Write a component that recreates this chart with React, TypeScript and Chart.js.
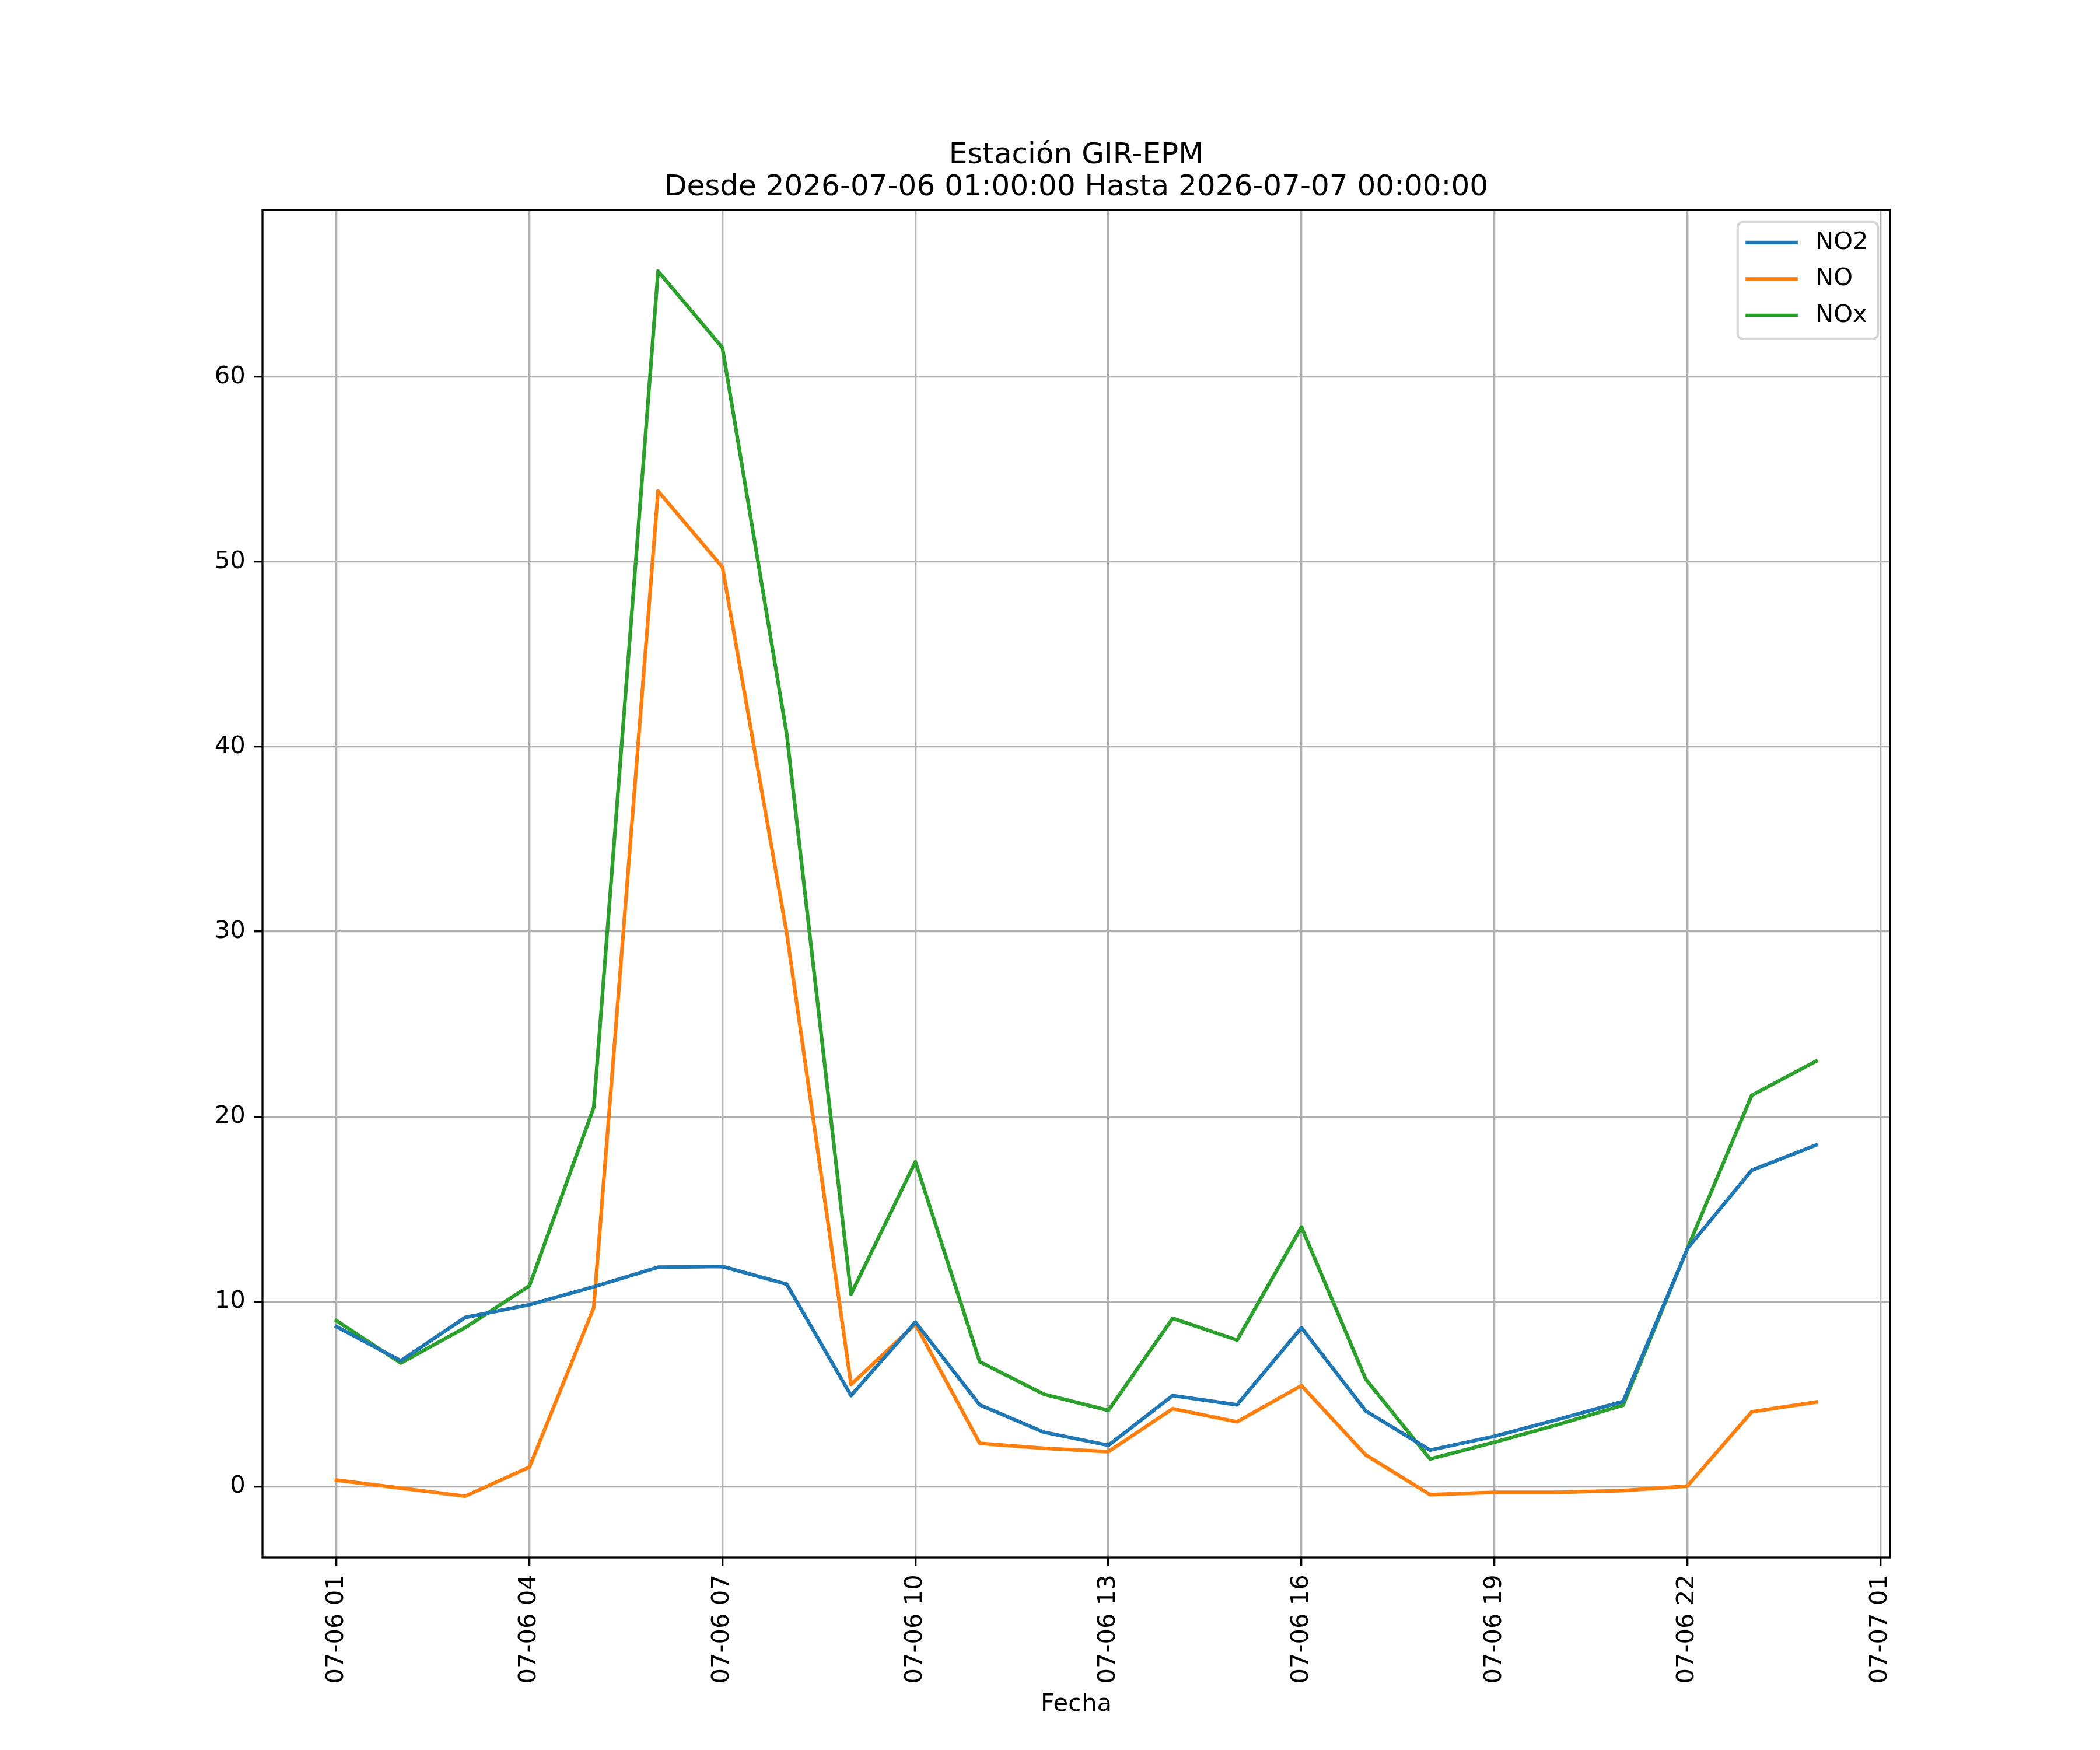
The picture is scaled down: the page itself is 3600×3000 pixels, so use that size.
import { useEffect, useRef } from "react";
import { Chart, registerables, Plugin } from "chart.js";

Chart.register(...registerables);

// hour of 2026-07-06 (24 = 2026-07-07 00:00)
const hours = [1, 2, 3, 4, 5, 6, 7, 8, 9, 10, 11, 12, 13, 14, 15, 16, 17, 18, 19, 20, 21, 22, 23, 24];

const no2Values = [8.65, 6.8, 9.14, 9.83, 10.8, 11.86, 11.9, 10.94, 4.92, 8.89, 4.42, 2.94, 2.23, 4.92, 4.42, 8.59, 4.09, 1.97, 2.72, 3.64, 4.6, 12.87, 17.1, 18.46];
const noValues = [0.35, -0.08, -0.52, 1.05, 9.67, 53.82, 49.71, 29.92, 5.52, 8.78, 2.34, 2.07, 1.89, 4.21, 3.5, 5.46, 1.71, -0.44, -0.31, -0.31, -0.22, 0.03, 4.04, 4.57];
const noxValues = [8.97, 6.68, 8.59, 10.85, 20.5, 65.7, 61.57, 40.68, 10.4, 17.56, 6.75, 4.99, 4.12, 9.1, 7.92, 14.03, 5.8, 1.49, 2.4, 3.37, 4.4, 12.87, 21.15, 23.0];

const seriesNames = ["NO2", "NO", "NOx"];
const seriesColors = ["#1f77b4", "#ff7f0e", "#2ca02c"];

const xTickHours = [1, 4, 7, 10, 13, 16, 19, 22, 25];
const xTickLabels = ["07-06 01", "07-06 04", "07-06 07", "07-06 10", "07-06 13", "07-06 16", "07-06 19", "07-06 22", "07-07 01"];
const yTickValues = [0, 10, 20, 30, 40, 50, 60];

const titleLines = ["Estación GIR-EPM", "Desde 2026-07-06 01:00:00 Hasta 2026-07-07 00:00:00"];
const xAxisTitle = "Fecha";

const PT = 300 / 72;
const FONT = "'DejaVu Sans', sans-serif";
const FS = 10 * PT;

// matplotlib-like 5% margins
const allValues = [...no2Values, ...noValues, ...noxValues];
const yLo = Math.min(...allValues);
const yHi = Math.max(...allValues);
const yMin = yLo - (yHi - yLo) * 0.05;
const yMax = yHi + (yHi - yLo) * 0.05;
const xSpan = hours[hours.length - 1] - hours[0];
const xMin = hours[0] - xSpan * 0.05;
const xMax = hours[hours.length - 1] + xSpan * 0.05;

// title centred over the axes, spines and legend box like matplotlib
const frameAndLegend: Plugin = {
  id: "frameAndLegend",
  afterDatasetsDraw(chart) {
    const { ctx, chartArea: a } = chart;
    ctx.save();
    ctx.strokeStyle = "#000";
    ctx.lineWidth = 0.8 * PT;
    ctx.strokeRect(a.left, a.top, a.right - a.left, a.bottom - a.top);

    // title
    ctx.fillStyle = "#000";
    ctx.font = `${12 * PT}px ${FONT}`;
    ctx.textAlign = "center";
    ctx.textBaseline = "alphabetic";
    const cx = (a.left + a.right) / 2;
    ctx.fillText(titleLines[0], cx, a.top - 80);
    ctx.fillText(titleLines[1], cx, a.top - 25);

    // legend (upper right)
    ctx.font = `${FS}px ${FONT}`;
    const labels = chart.data.datasets.map(d => String(d.label));
    const textW = Math.max(...labels.map(l => ctx.measureText(l).width));
    const boxW = 0.4 * FS * 2 + 2 * FS + 0.8 * FS + textW;
    const boxH = 0.4 * FS * 2 + labels.length * FS + (labels.length - 1) * 0.5 * FS;
    const right = a.right - 0.5 * FS;
    const top = a.top + 0.5 * FS;
    const left = right - boxW;
    ctx.beginPath();
    ctx.roundRect(left, top, boxW, boxH, 0.2 * FS);
    ctx.fillStyle = "rgba(255,255,255,0.8)";
    ctx.fill();
    ctx.strokeStyle = "rgba(204,204,204,0.8)";
    ctx.lineWidth = 1 * PT;
    ctx.stroke();

    chart.data.datasets.forEach((d, i) => {
      const y = top + 0.84 * FS + i * 1.5 * FS;
      const x0 = left + 0.4 * FS;
      ctx.beginPath();
      ctx.moveTo(x0, y);
      ctx.lineTo(x0 + 2 * FS, y);
      ctx.strokeStyle = String(d.borderColor);
      ctx.lineWidth = 1.5 * PT;
      ctx.lineCap = "square";
      ctx.stroke();
      ctx.fillStyle = "#000";
      ctx.textAlign = "left";
      ctx.textBaseline = "middle";
      ctx.fillText(labels[i], x0 + 2.8 * FS, y);
    });
    ctx.restore();
  },
};

export default function App() {
  const canvasRef = useRef<HTMLCanvasElement>(null);
  const chartRef = useRef<Chart | null>(null);

  useEffect(() => {
    document.body.style.margin = "0";
    if (!canvasRef.current) return;
    if (chartRef.current) chartRef.current.destroy();

    const seriesValues = [no2Values, noValues, noxValues];

    chartRef.current = new Chart(canvasRef.current, {
      type: "line",
      data: {
        datasets: seriesNames.map((name, i) => ({
          label: name,
          data: hours.map((h, j) => ({ x: h, y: seriesValues[i][j] })),
          borderColor: seriesColors[i],
          backgroundColor: seriesColors[i],
          borderWidth: 1.5 * PT,
          borderJoinStyle: "round",
          borderCapStyle: "square",
          pointRadius: 0,
          tension: 0,
          fill: false,
        })),
      },
      options: {
        animation: false,
        responsive: true,
        maintainAspectRatio: false,
        devicePixelRatio: 1,
        events: [],
        layout: { padding: { left: 0, right: 360, top: 360, bottom: 0 } },
        plugins: {
          legend: { display: false },
          tooltip: { enabled: false },
          title: { display: false },
        },
        scales: {
          x: {
            type: "linear",
            min: xMin,
            max: xMax,
            afterBuildTicks: scale => {
              scale.ticks = xTickHours.map(v => ({ value: v }));
            },
            afterFit: scale => {
              scale.height = 330;
            },
            ticks: {
              autoSkip: false,
              minRotation: 90,
              maxRotation: 90,
              padding: 3.5 * PT,
              color: "#000",
              font: { family: FONT, size: FS },
              callback: (_v, i) => xTickLabels[i],
            },
            grid: {
              color: "#b0b0b0",
              lineWidth: 0.8 * PT,
              tickColor: "#000",
              tickWidth: 0.8 * PT,
              tickLength: 3.5 * PT,
            },
            border: { display: false },
            title: {
              display: true,
              text: xAxisTitle,
              color: "#000",
              font: { family: FONT, size: FS, lineHeight: 1.2 },
              padding: { top: 0, bottom: 53 },
            },
          },
          y: {
            type: "linear",
            min: yMin,
            max: yMax,
            afterBuildTicks: scale => {
              scale.ticks = yTickValues.map(v => ({ value: v }));
            },
            afterFit: scale => {
              scale.width = 450;
            },
            ticks: {
              padding: 3.5 * PT,
              color: "#000",
              font: { family: FONT, size: FS },
              callback: v => String(v),
            },
            grid: {
              color: "#b0b0b0",
              lineWidth: 0.8 * PT,
              tickColor: "#000",
              tickWidth: 0.8 * PT,
              tickLength: 3.5 * PT,
            },
            border: { display: false },
          },
        },
      },
      plugins: [frameAndLegend],
    });

    return () => {
      if (chartRef.current) {
        chartRef.current.destroy();
        chartRef.current = null;
      }
    };
  }, []);

  return (
    <div style={{ width: 3600, height: 3000, position: "relative", background: "#fff" }}>
      <canvas ref={canvasRef} />
    </div>
  );
}
